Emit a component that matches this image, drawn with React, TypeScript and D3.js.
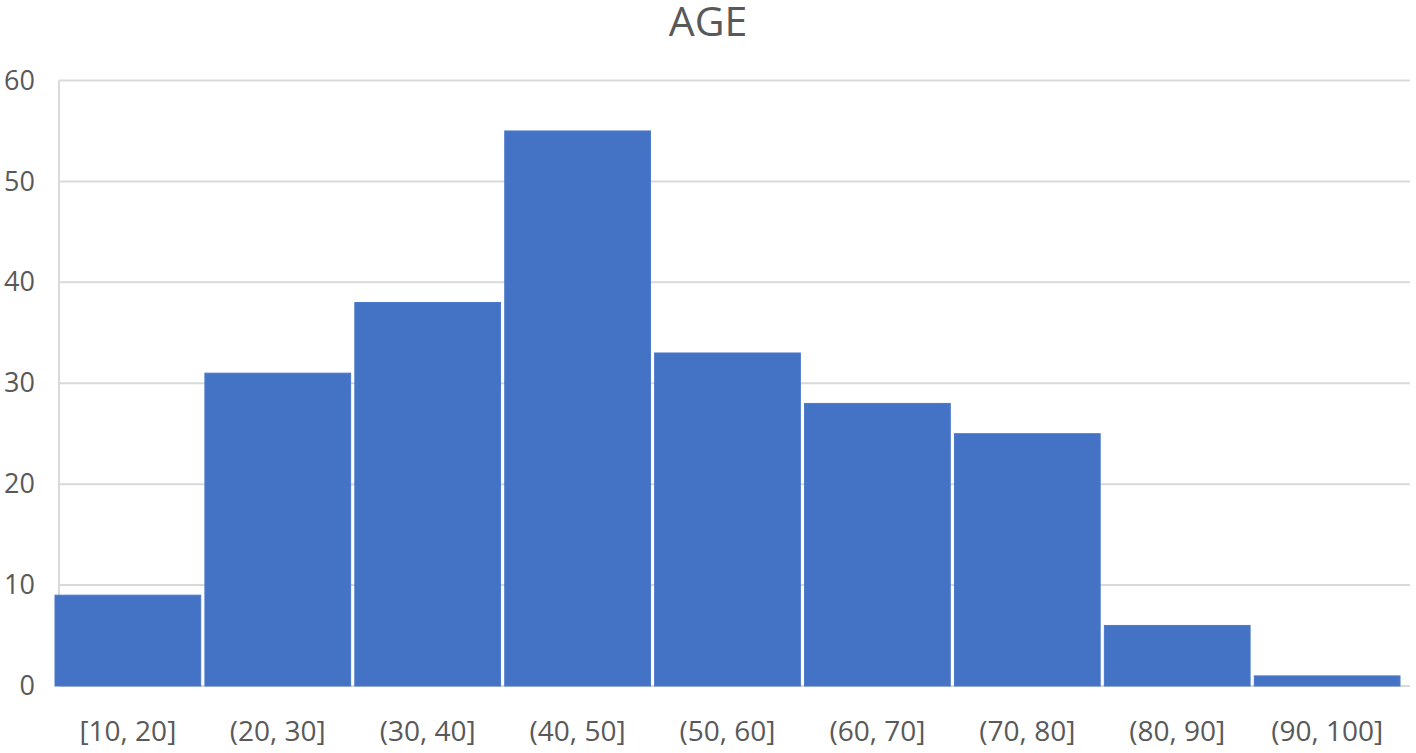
import { useEffect, useRef } from 'react';
import * as d3 from 'd3';

// age bins and counts
const bins = ['[10, 20]', '(20, 30]', '(30, 40]', '(40, 50]', '(50, 60]', '(60, 70]', '(70, 80]', '(80, 90]', '(90, 100]'];
const counts = [9, 31, 38, 55, 33, 28, 25, 6, 1];
const yTicks = [0, 10, 20, 30, 40, 50, 60];

export default function App() {
  const width = 1416;
  const height = 753;
  const marginTop = 80.5;
  const marginBottom = 67;
  const marginLeft = 59;
  const marginRight = 6;

  const x = d3.scaleBand<string>()
    .domain(bins)
    .range([55, 1400])
    .paddingInner(0.028)
    .paddingOuter(0);

  const y = d3.scaleLinear()
    .domain([0, 60])
    .range([height - marginBottom, marginTop]);

  const gy = useRef<SVGGElement>(null);
  useEffect(() => {
    const g = d3.select(gy.current);
    g.call(d3.axisLeft(y).tickValues(yTicks).tickSize(0).tickPadding(24) as any);
    g.select('.domain').remove();
    g.selectAll('text')
      .attr('fill', '#595959')
      .style('font-size', '27px')
      .style('font-family', '"Open Sans", sans-serif');
  }, []);

  return (
    <svg width={width} height={height} style={{ position: 'absolute', left: 0, top: 0, background: '#fff' }}>
      <text x={708} y={36} textAnchor="middle" fill="#595959"
        style={{ fontSize: 41, fontFamily: '"Open Sans", sans-serif' }}>AGE</text>

      {yTicks.map(t => (
        <line key={t} x1={marginLeft} x2={width - marginRight} y1={y(t)} y2={y(t)}
          stroke="#d9d9d9" strokeWidth={2} />
      ))}
      <line x1={marginLeft} x2={marginLeft} y1={y(60)} y2={y(0)} stroke="#d9d9d9" strokeWidth={2} />

      {counts.map((c, i) => (
        <rect key={bins[i]} x={x(bins[i])} y={y(c)} width={x.bandwidth()} height={y(0) - y(c)}
          fill="#4472c4" stroke="#4a78cc" strokeWidth={1} />
      ))}

      <g ref={gy} transform={`translate(${marginLeft},0)`}></g>

      {bins.map(b => (
        <text key={b} x={(x(b) as number) + x.bandwidth() / 2} y={741} textAnchor="middle" fill="#595959"
          style={{ fontSize: 28, fontFamily: '"Open Sans", sans-serif' }}>{b}</text>
      ))}
    </svg>
  );
}
